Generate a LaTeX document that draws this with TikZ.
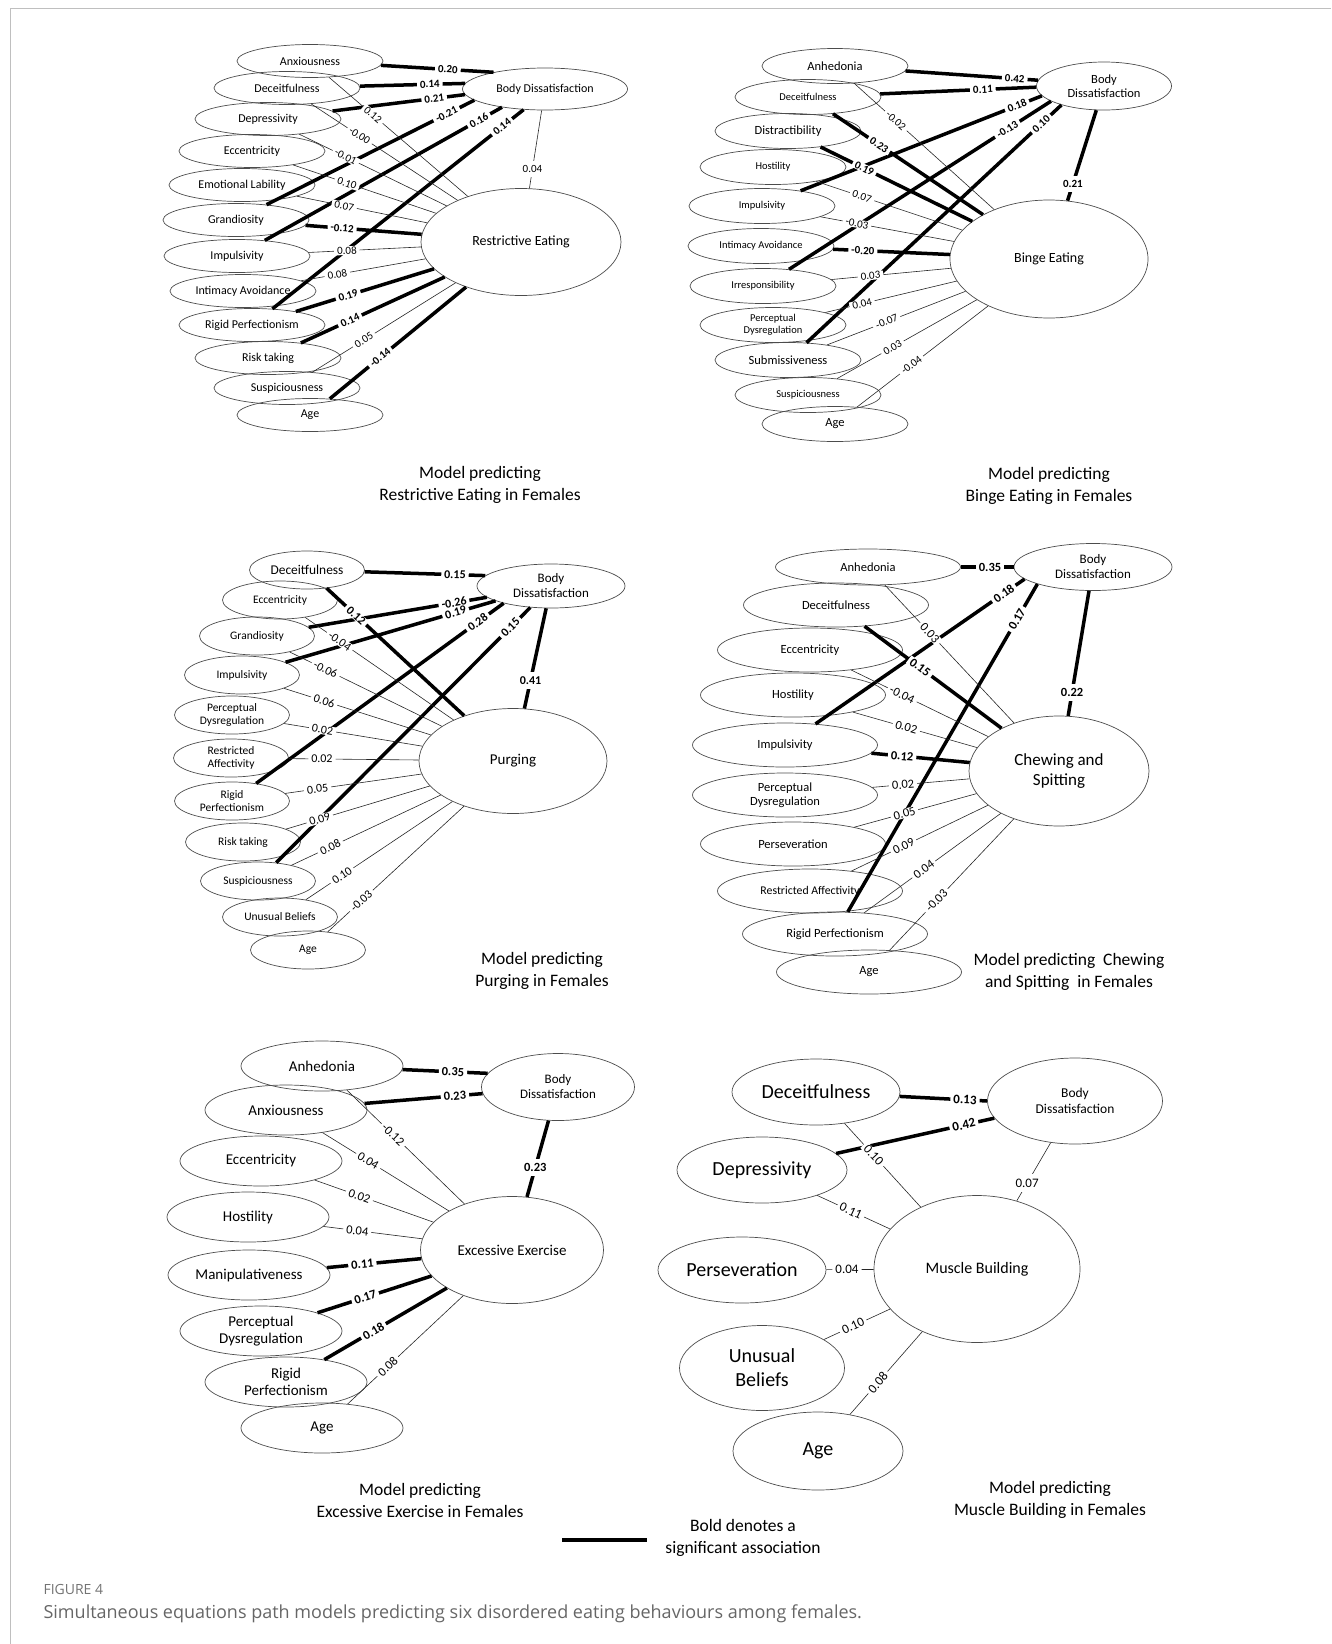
\documentclass[tikz,border=0pt]{standalone}
\usepackage{fontspec}
\setmainfont{Carlito}
\newfontfamily\capfont{Open Sans}
\usetikzlibrary{shapes.geometric,calc}
\newcommand\fsz[2]{\fontsize{#1}{#2}\selectfont}
\newcommand\labfont{\fsz{11}{12}}
% thin / bold connectors, label sloped along the line
\newcommand\lk[4]{\draw[thinl] (#1) -- ($(#1)!(#3)!(#2)$) node[lab,pos=1]{#4} -- (#2);}
\newcommand\bk[4]{\draw[boldl] (#1) -- ($(#1)!(#3)!(#2)$) node[labb,pos=1]{#4} -- (#2);}
% thin / bold connectors, label kept horizontal
\newcommand\lkh[4]{\draw[thinl] (#1) -- ($(#1)!(#3)!(#2)$) node[labh,pos=1]{#4} -- (#2);}
\newcommand\bkh[4]{\draw[boldl] (#1) -- ($(#1)!(#3)!(#2)$) node[labhb,pos=1]{#4} -- (#2);}
\begin{document}
\begin{tikzpicture}[x=1pt,y=-1pt,
  ell/.style={ellipse, draw=black!70, line width=0.7pt, inner sep=0pt, align=center, text=black},
  thinl/.style={line width=0.6pt, black!85},
  boldl/.style={line width=3.5pt, black},
  labh/.style={fill=white, inner xsep=2.5pt, inner ysep=4.5pt, font=\labfont, text=black},
  labhb/.style={labh, font={\labfont\bfseries}},
  lab/.style={fill=white, inner xsep=3pt, inner ysep=0.5pt, font=\labfont, text=black, sloped},
  labb/.style={lab, font={\labfont\bfseries}},
  e1/.style={ell, minimum width=146pt, minimum height=33pt, font=\fsz{12}{13}},
  e2/.style={ell, minimum width=146pt, minimum height=35pt, font=\fsz{10.5}{11.5}},
  e2L/.style={e2, font=\fsz{12.5}{13.5}},
  e3/.style={ell, minimum width=115pt, minimum height=38pt, font=\fsz{11.5}{12.5}},
  e4/.style={ell, minimum width=185pt, minimum height=44pt, font=\fsz{12.5}{14}},
  e5/.style={ell, minimum width=162pt, minimum height=50pt, font=\fsz{15}{17}},
  e6/.style={ell, minimum width=168pt, minimum height=66pt, font=\fsz{20}{24}},
  ttl/.style={font=\fsz{17.5}{22}, align=center, text=black}
]
\useasboundingbox (0,0) rectangle (1331,1644);
\coordinate (fa) at (10,1644); \coordinate (fb) at (10,8); \coordinate (fc) at (1331,8);
\draw[black!25, line width=1pt] (fa) -- (fb) -- (fc);

% ---------------- Panel 1 ----------------
\node[e1] (p1anx) at (310,61) {Anxiousness};
\node[e1] (p1dec) at (287,88) {Deceitfulness};
\node[e1] (p1dep) at (268,119) {Depressivity};
\node[e1] (p1ecc) at (252,151) {Eccentricity};
\node[e1] (p1emo) at (242,185) {Emotional Lability};
\node[e1] (p1gra) at (236,220) {Grandiosity};
\node[e1] (p1imp) at (237,256) {Impulsivity};
\node[e1] (p1int) at (243,291) {Intimacy Avoidance};
\node[e1] (p1rig) at (252,325) {Rigid Perfectionism};
\node[e1] (p1ris) at (268,358) {Risk taking};
\node[e1] (p1sus) at (287,388) {Suspiciousness};
\node[e1] (p1age) at (310,415) {Age};
\node[ell, minimum width=165pt, minimum height=42pt, font=\fsz{12}{13}] (p1bd) at (545,89) {Body Dissatisfaction};
\node[ell, minimum width=200pt, minimum height=107pt, font=\fsz{14}{15}] (p1re) at (521,242) {Restrictive Eating};
\bk{p1anx}{p1bd.162}{448,68}{0.20}
\bk{p1dec}{p1bd.176}{430,89}{0.14}
\bk{p1dep}{p1bd.184}{435,105}{0.21}
\bk{p1gra}{p1bd.189}{447,115}{-0.21}
\bk{p1imp}{p1bd.203}{480,122}{0.16}
\bk{p1rig}{p1bd.224}{503,128}{0.14}
\lkh{p1bd}{p1re}{520,167}{0.04}
\lk{p1anx}{p1re}{390,95}{0.12}
\lk{p1dec}{p1re}{368,123}{-0.00}
\lk{p1dep}{p1re}{350,148}{-0.01}
\lk{p1ecc}{p1re}{347,183}{0.10}
\lk{p1emo}{p1re}{343,212}{0.07}
\bk{p1gra}{p1re}{342,230}{-0.12}
\lk{p1imp}{p1re}{347,252}{0.08}
\lk{p1int}{p1re}{337,273}{0.08}
\bk{p1rig}{p1re}{348,295}{0.19}
\bk{p1ris}{p1re}{353,327}{0.14}
\lk{p1sus}{p1re}{372,353}{0.05}
\bk{p1age}{p1re}{393,373}{-0.14}
\node[ttl] (t1) at (480,485) {Model predicting\\Restrictive Eating in Females};

% ---------------- Panel 2 ----------------
\node[e2L] (p2anh) at (835,66) {Anhedonia};
\node[e2] (p2dec) at (808,97) {Deceitfulness};
\node[e2L] (p2dis) at (788,131) {Distractibility};
\node[e2] (p2hos) at (773,167) {Hostility};
\node[e2] (p2imp) at (762,206) {Impulsivity};
\node[e2] (p2int) at (761,246) {Intimacy Avoidance};
\node[e2] (p2irr) at (763,286) {Irresponsibility};
\node[e2] (p2per) at (773,325) {Perceptual\\Dysregulation};
\node[e2L] (p2sub) at (788,360) {Submissiveness};
\node[e2] (p2sus) at (808,395) {Suspiciousness};
\node[e2L] (p2age) at (835,424) {Age};
\node[ell, minimum width=135pt, minimum height=48pt, font=\fsz{12.5}{14}] (p2bd) at (1104,86) {Body\\Dissatisfaction};
\node[ell, minimum width=198pt, minimum height=118pt, font=\fsz{14}{15}] (p2be) at (1049,259) {Binge Eating};
\bk{p2anh}{p2bd.175}{1015,75}{0.42}
\bk{p2dec}{p2bd.181}{983,92}{0.11}
\bk{p2imp}{p2bd.189}{1020,113}{0.18}
\bk{p2irr}{p2bd.196}{1013,138}{-0.13}
\bk{p2sub}{p2bd.204}{1047,130}{0.10}
\bkh{p2bd}{p2be}{1060,180}{0.21}
\lk{p2anh}{p2be}{913,102}{-0.02}
\bk{p2dec}{p2be}{887,133}{0.23}
\bk{p2dis}{p2be}{867,163}{0.19}
\lk{p2hos}{p2be}{860,203}{0.07}
\lk{p2imp}{p2be}{857,223}{-0.03}
\bk{p2int}{p2be}{863,247}{-0.20}
\lk{p2irr}{p2be}{870,270}{0.03}
\lk{p2per}{p2be}{862,303}{0.04}
\lk{p2sub}{p2be}{888,325}{-0.07}
\lk{p2sus}{p2be}{898,357}{0.03}
\lk{p2age}{p2be}{923,380}{-0.04}
\node[ttl] (t2) at (1049,486) {Model predicting\\Binge Eating in Females};

% ---------------- Panel 3 ----------------
\renewcommand\labfont{\fsz{12}{13}}
\node[e3, font=\fsz{13.4}{14}] (p3dec) at (307,570) {Deceitfulness};
\node[e3] (p3ecc) at (280,600) {Eccentricity};
\node[e3] (p3gra) at (257,636) {Grandiosity};
\node[e3] (p3imp) at (242,675) {Impulsivity};
\node[e3] (p3per) at (232,715) {Perceptual\\Dysregulation};
\node[e3] (p3res) at (231,758) {Restricted\\Affectivity};
\node[e3] (p3rig) at (232,801) {Rigid\\Perfectionism};
\node[e3] (p3ris) at (243,842) {Risk taking};
\node[e3] (p3sus) at (258,881) {Suspiciousness};
\node[e3] (p3unu) at (280,917) {Unusual Beliefs};
\node[e3] (p3age) at (308,950) {Age};
\node[ell, minimum width=148pt, minimum height=44pt, font=\fsz{13}{15}] (p3bd) at (551,586) {Body\\Dissatisfaction};
\node[ell, minimum width=188pt, minimum height=105pt, font=\fsz{15}{16}] (p3pu) at (513,761) {Purging};
\bk{p3dec}{p3bd.171}{455,575}{0.15}
\bk{p3gra}{p3bd.190}{453,597}{-0.26}
\bk{p3imp}{p3bd.195}{457,617}{0.19}
\bk{p3rig}{p3bd.200}{482,628}{0.28}
\bk{p3sus}{p3bd.226}{513,630}{0.15}
\bkh{p3bd}{p3pu}{530,680}{0.41}
\bk{p3dec}{p3pu}{363,608}{0.12}
\lk{p3ecc}{p3pu}{342,638}{-0.04}
\lk{p3gra}{p3pu}{322,677}{-0.06}
\lk{p3imp}{p3pu}{323,705}{0.06}
\lk{p3per}{p3pu}{322,733}{0.02}
\lk{p3res}{p3pu}{322,758}{0.02}
\lk{p3rig}{p3pu}{317,785}{0.05}
\lk{p3ris}{p3pu}{317,810}{0.09}
\lk{p3sus}{p3pu}{328,842}{0.08}
\lk{p3unu}{p3pu}{343,877}{0.10}
\lk{p3age}{p3pu}{368,908}{-0.03}
\node[ttl] (t3) at (542,971) {Model predicting\\Purging in Females};

% ---------------- Panel 4 ----------------
\renewcommand\labfont{\fsz{12.5}{13.5}}
\node[e4, minimum height=36pt] (p4anh) at (868,567) {Anhedonia};
\node[e4] (p4dec) at (836,605) {Deceitfulness};
\node[e4] (p4ecc) at (810,650) {Eccentricity};
\node[e4] (p4hos) at (793,695) {Hostility};
\node[e4] (p4imp) at (785,745) {Impulsivity};
\node[e4] (p4per) at (785,795) {Perceptual\\Dysregulation};
\node[e4] (p4pers) at (793,844) {Perseveration};
\node[e4, font=\fsz{11.8}{13}] (p4res) at (810,891) {Restricted Affectivity};
\node[e4] (p4rig) at (835,934) {Rigid Perfectionism};
\node[e4] (p4age) at (869,972) {Age};
\node[ell, minimum width=158pt, minimum height=47pt, font=\fsz{13}{15}] (p4bd) at (1093,567) {Body\\Dissatisfaction};
\node[ell, minimum width=180pt, minimum height=110pt, font=\fsz{17}{20}] (p4cs) at (1059,771) {Chewing and\\Spitting};
\bk{p4anh}{p4bd.180}{990,569}{0.35}
\bk{p4imp}{p4bd.190}{1007,598}{0.18}
\bk{p4rig}{p4bd.197}{1027,625}{0.17}
\bkh{p4bd}{p4cs}{1088,695}{0.22}
\lk{p4anh}{p4cs}{947,617}{0.03}
\bk{p4dec}{p4cs}{928,657}{0.15}
\lk{p4ecc}{p4cs}{903,693}{-0.04}
\lk{p4hos}{p4cs}{905,732}{0.02}
\bk{p4imp}{p4cs}{902,758}{0.12}
\lk{p4per}{p4cs}{903,783}{0.02}
\lk{p4pers}{p4cs}{903,808}{0.05}
\lk{p4res}{p4cs}{907,853}{0.09}
\lk{p4rig}{p4cs}{933,882}{0.04}
\lk{p4age}{p4cs}{955,918}{-0.03}
\node[ttl] (t4) at (1069,972) {Model predicting\ \ Chewing\\and Spitting\ \ in Females};

% ---------------- Panel 5 ----------------
\node[e5] (p5anh) at (322,1066) {Anhedonia};
\node[e5] (p5anx) at (286,1110) {Anxiousness};
\node[e5] (p5ecc) at (261,1161) {Eccentricity};
\node[e5] (p5hos) at (248,1217) {Hostility};
\node[e5] (p5man) at (249,1275) {Manipulativeness};
\node[e5] (p5per) at (261,1331) {Perceptual\\Dysregulation};
\node[e5] (p5rig) at (286,1382) {Rigid\\Perfectionism};
\node[e5] (p5age) at (322,1428) {Age};
\node[ell, minimum width=153pt, minimum height=67pt, font=\fsz{13}{15}] (p5bd) at (558,1087) {Body\\Dissatisfaction};
\node[ell, minimum width=183pt, minimum height=107pt, font=\fsz{15}{17}] (p5ee) at (512,1250) {Excessive Exercise};
\bk{p5anh}{p5bd.169}{453,1072}{0.35}
\bk{p5anx}{p5bd.185}{455,1097}{0.23}
\bkh{p5bd}{p5ee}{537,1168}{0.23}
\lk{p5anh}{p5ee}{393,1135}{-0.12}
\lk{p5anx}{p5ee}{367,1163}{0.04}
\lk{p5ecc}{p5ee}{357,1203}{0.02}
\lk{p5hos}{p5ee}{357,1233}{0.04}
\bk{p5man}{p5ee}{362,1260}{0.11}
\bk{p5per}{p5ee}{362,1287}{0.17}
\bk{p5rig}{p5ee}{370,1325}{0.18}
\lk{p5age}{p5ee}{393,1372}{0.08}
\node[ttl] (t5) at (420,1500) {Model predicting\\Excessive Exercise in Females};

% ---------------- Panel 6 ----------------
\renewcommand\labfont{\fsz{13}{14}}
\node[e6] (p6dec) at (816,1092) {Deceitfulness};
\node[e6, minimum width=170pt] (p6dep) at (762,1170) {Depressivity};
\node[e6] (p6pers) at (742,1270) {Perseveration};
\node[e6, minimum width=165pt, minimum height=85pt] (p6unu) at (762,1368) {Unusual\\Beliefs};
\node[e6, minimum width=170pt, minimum height=78pt] (p6age) at (818,1451) {Age};
\node[ell, minimum width=175pt, minimum height=86pt, font=\fsz{13.5}{16}] (p6bd) at (1075,1101) {Body\\Dissatisfaction};
\node[ell, minimum width=206pt, minimum height=147pt, font=\fsz{16}{18}] (p6mb) at (977,1269) {Muscle Building};
\bk{p6dec}{p6bd.180}{965,1100}{0.13}
\bk{p6dep}{p6bd.192}{965,1130}{0.42}
\lkh{p6bd}{p6mb}{1027,1183}{0.07}
\lk{p6dec}{p6mb}{863,1165}{0.10}
\lk{p6dep}{p6mb}{843,1228}{0.11}
\lk{p6pers}{p6mb}{847,1270}{0.04}
\lk{p6unu}{p6mb}{848,1315}{0.10}
\lk{p6age}{p6mb}{866,1372}{0.08}
\node[ttl] (t6) at (1050,1500) {Model predicting\\Muscle Building in Females};

% ---------------- Legend and caption ----------------
\coordinate (lg1) at (562,1540); \coordinate (lg2) at (647,1540);
\draw[line width=4.5pt] (lg1) -- (lg2);
\node[ttl] (lgt) at (743,1538) {Bold denotes a\\significant association};
\node[anchor=west, font=\capfont\fsz{14}{16}, text=black!55] (fig) at (40,1589) {FIGURE 4};
\node[anchor=west, font=\capfont\fsz{18}{21}, text=black!60] (cap) at (40,1614) {Simultaneous equations path models predicting six disordered eating behaviours among females.};
\end{tikzpicture}
\end{document}
